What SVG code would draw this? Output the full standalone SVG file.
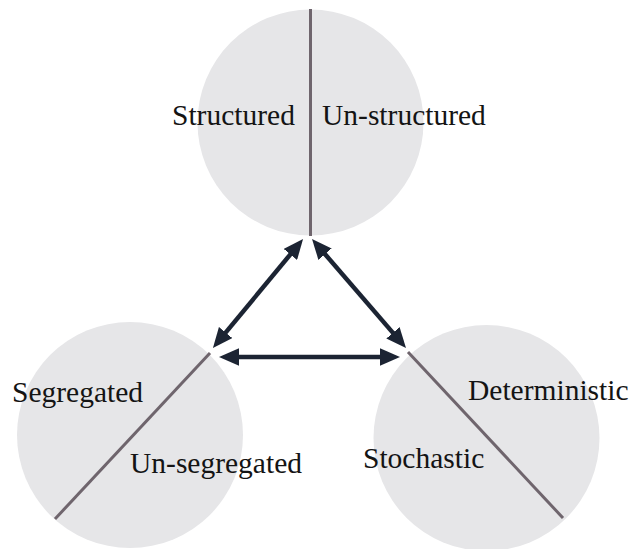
<svg xmlns="http://www.w3.org/2000/svg" width="632" height="549" viewBox="0 0 632 549">
<style>
.circ{fill:#e6e6e8;stroke:none}
.div{stroke:#6f656d;stroke-width:3;fill:none}
.lbl{font-family:"Liberation Serif","Times New Roman",serif;font-size:29.5px;fill:#141414}
.arr{stroke:#1c2433;stroke-width:4.5;fill:none;marker-start:url(#ah);marker-end:url(#ah)}
</style>
<defs>
<marker id="ah" markerUnits="userSpaceOnUse" markerWidth="20" markerHeight="17.5" refX="4" refY="7" orient="auto-start-reverse" viewBox="0 0 16 14">
<path d="M0,0 L16,7 L0,14 z" fill="#1c2433"/>
</marker>
</defs>
<rect width="632" height="549" fill="#ffffff"/>
<g id="node-structure">
<circle class="circ" cx="310.5" cy="122.5" r="113"/>
<line class="div" x1="310.5" y1="9" x2="310.5" y2="236"/>
<text class="lbl" x="172" y="125">Structured</text>
<text class="lbl" x="322" y="125">Un-structured</text>
</g>
<g id="node-segregation">
<circle class="circ" cx="130" cy="435" r="113"/>
<line class="div" x1="210" y1="353" x2="55" y2="519"/>
<text class="lbl" x="12" y="402">Segregated</text>
<text class="lbl" x="130" y="473">Un-segregated</text>
</g>
<g id="node-determinism">
<circle class="circ" cx="486.5" cy="438" r="113"/>
<line class="div" x1="408" y1="352" x2="563" y2="518"/>
<text class="lbl" x="468" y="400">Deterministic</text>
<text class="lbl" x="363" y="468">Stochastic</text>
</g>
<g id="connectors">
<line class="arr" x1="293.5" y1="250.6" x2="222.5" y2="336.4"/>
<line class="arr" x1="321.8" y1="250.4" x2="396.2" y2="336.6"/>
<line class="arr" x1="234" y1="357" x2="385" y2="357"/>
</g>
</svg>
